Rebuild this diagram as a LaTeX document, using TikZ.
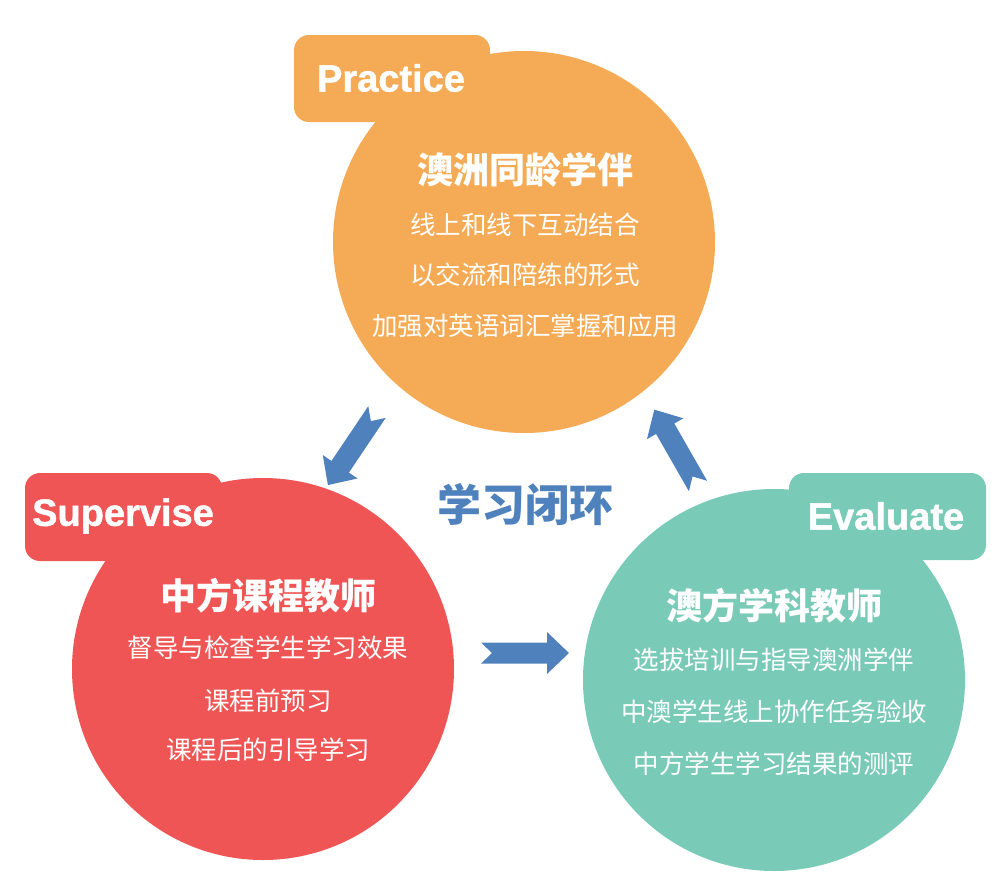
\documentclass[tikz,border=0pt]{standalone}
\usepackage{fontspec}
\setmainfont{Liberation Sans}
\newfontfamily\cjk{Noto Sans CJK SC}
\newfontfamily\tagfont[FakeBold=1.2]{Liberation Sans Bold}
\definecolor{cOrange}{RGB}{245,171,85}
\definecolor{cRed}{RGB}{240,85,85}
\definecolor{cTeal}{RGB}{122,202,184}
\definecolor{cBlue}{RGB}{79,129,189}
\tikzset{
  bubble/.style={circle,minimum size=382pt,inner sep=0pt,draw=none},
  tagbox/.style={rounded corners=15pt,draw=none},
  tagtext/.style={text=white,font=\tagfont\fontsize{38}{40}\selectfont,inner sep=0pt},
  ttl/.style={text=white,font=\cjk\fontsize{36}{40}\selectfont\bfseries,inner sep=0pt},
  body/.style={text=white,font=\cjk\fontsize{25.5}{30}\selectfont,inner sep=0pt},
  barrow/.pic={\fill[cBlue] (0,10.5) -- (66,10.5) -- (66,21) -- (88,0) -- (66,-21) -- (66,-10.5) -- (0,-10.5) -- (11,0) -- cycle;}
}
\begin{document}
\begin{tikzpicture}[x=1pt,y=-1pt]
\useasboundingbox (0,0) rectangle (1001,894);
% circles and tags
\node[bubble,fill=cOrange] (orange) at (524,242) {};
\fill[cOrange,tagbox] (294,35) rectangle (490,122);
\node[bubble,fill=cRed] (red) at (263,669) {};
\fill[cRed,tagbox] (25,473) rectangle (222,561);
\node[bubble,fill=cTeal] (teal) at (774,680) {};
\fill[cTeal,tagbox] (789,473) rectangle (986,560);
% tag texts
\node[tagtext] (practice) at (391,78) {Practice};
\node[tagtext] (supervise) at (123,516) {Supervise};
\node[tagtext] (evaluate) at (886,516) {Evaluate};
% orange texts
\node[ttl] (o0) at (525,170) {澳洲同龄学伴};
\node[body] (o1) at (525,225) {线上和线下互动结合};
\node[body] (o2) at (525,275) {以交流和陪练的形式};
\node[body] (o3) at (525,326) {加强对英语词汇掌握和应用};
% red texts
\node[ttl] (r0) at (268,596) {中方课程教师};
\node[body] (r1) at (268,648) {督导与检查学生学习效果};
\node[body] (r2) at (268,701) {课程前预习};
\node[body] (r3) at (268,750) {课程后的引导学习};
% teal texts
\node[ttl] (t0) at (774,606) {澳方学科教师};
\node[body] (t1) at (774,660) {选拔培训与指导澳洲学伴};
\node[body] (t2) at (774,712) {中澳学生线上协作任务验收};
\node[body] (t3) at (774,764) {中方学生学习结果的测评};
% centre label
\node[text=cBlue,font=\cjk\fontsize{44}{48}\selectfont\bfseries,inner sep=0pt] (loop) at (525,505) {学习闭环};
% arrows
\pic[rotate=236.1] (a1) at (377,412) {barrow};
\pic[rotate=119.8] (a2) at (698,486) {barrow};
\pic (a3) at (481,653) {barrow};
\end{tikzpicture}
\end{document}
